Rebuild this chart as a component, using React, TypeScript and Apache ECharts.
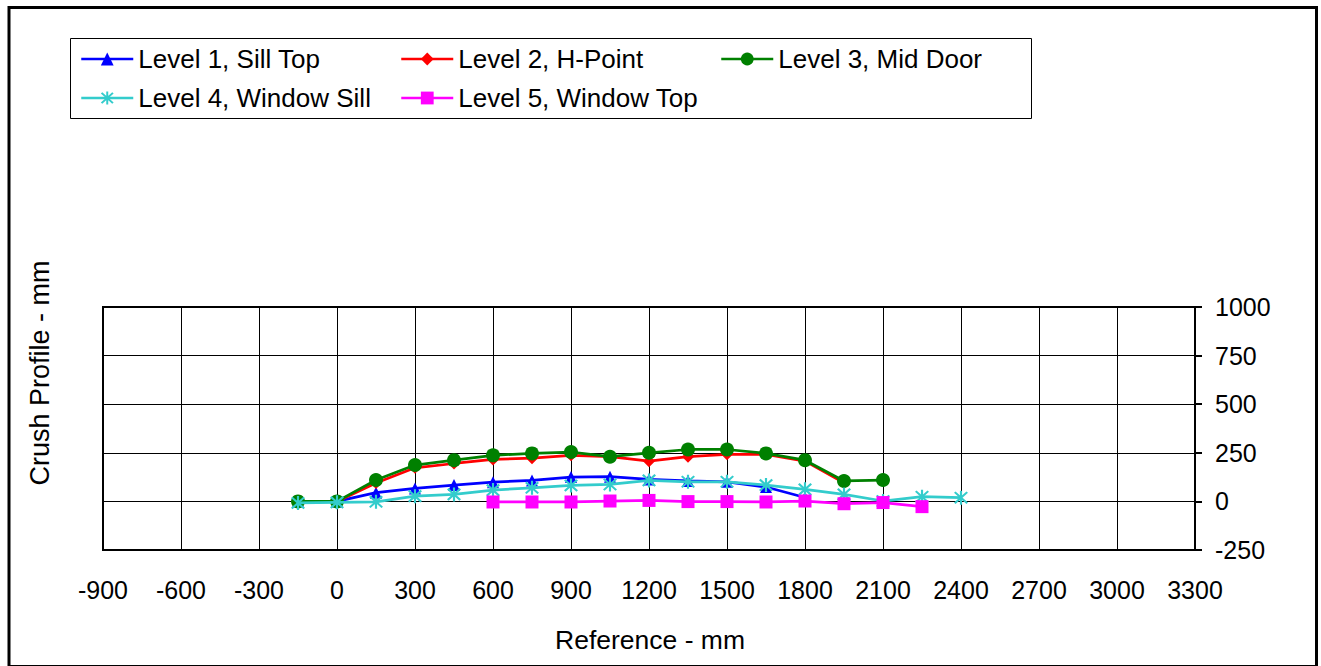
import React, { useEffect, useRef } from "react";
import * as echarts from "echarts";

const xTicks = [-900, 3300, 300];
const yTicks = [-250, 1000, 250];

const names = [
  "Level 1, Sill Top",
  "Level 2, H-Point",
  "Level 3, Mid Door",
  "Level 4, Window Sill",
  "Level 5, Window Top",
];

const x1 = [-150, 0, 150, 300, 450, 600, 750, 900, 1050, 1200, 1350, 1500, 1650, 1800];
const level1 = [0, 0, 45, 67, 84, 99, 108, 125, 127, 113, 105, 101, 74, 20];

const x2 = [-150, 0, 150, 300, 450, 600, 750, 900, 1050, 1200, 1350, 1500, 1650, 1800, 1950];
const level2 = [0, 0, 95, 173, 195, 216, 222, 237, 230, 207, 230, 242, 242, 207, 96];

const x3 = [-150, 0, 150, 300, 450, 600, 750, 900, 1050, 1200, 1350, 1500, 1650, 1800, 1950, 2100];
const level3 = [0, 0, 110, 187, 212, 237, 247, 254, 230, 250, 267, 267, 247, 212, 105, 110];

const x4 = [-150, 0, 150, 300, 450, 600, 750, 900, 1050, 1200, 1350, 1500, 1650, 1800, 1950, 2100, 2250, 2400];
const level4 = [-8, -5, -2, 27, 36, 58, 70, 82, 87, 108, 101, 101, 84, 62, 36, 2, 24, 19];

const x5 = [600, 750, 900, 1050, 1200, 1350, 1500, 1650, 1800, 1950, 2100, 2250];
const level5 = [-3, -3, -3, 2, 5, -1, -1, -3, 2, -12, -6, -27];

const colors = ["#0000FF", "#FF0000", "#008000", "#33CCCC", "#FF00FF"];

const asterisk =
  "path://M4.3,0 L5.7,0 L5.7,10 L4.3,10 Z M0.5,1.5 L1.5,0.5 L9.5,8.5 L8.5,9.5 Z M8.5,0.5 L9.5,1.5 L1.5,9.5 L0.5,8.5 Z";

const FONT = "'Liberation Sans', Arial, sans-serif";

function pairs(xs: number[], ys: number[]) {
  return xs.map((x, i) => [x, ys[i]]);
}

export default function App() {
  const ref = useRef<HTMLDivElement>(null);
  useEffect(() => {
    if (!ref.current) return;
    const chart = echarts.init(ref.current, null, { renderer: "svg" });
    const symbols = ["triangle", "diamond", "circle", asterisk, "rect"];
    const sizes = [12, 12, 14, 14, 13];
    const datasets = [
      pairs(x1, level1),
      pairs(x2, level2),
      pairs(x3, level3),
      pairs(x4, level4),
      pairs(x5, level5),
    ];
    const legendPos = [
      { left: 80, top: 46 },
      { left: 400, top: 46 },
      { left: 720, top: 46 },
      { left: 80, top: 85 },
      { left: 400, top: 85 },
    ];
    chart.setOption({
      animation: false,
      backgroundColor: "#ffffff",
      grid: {
        left: 103,
        top: 307,
        right: 1321 - 1195,
        bottom: 666 - 550,
        show: true,
        borderColor: "#000",
        borderWidth: 2,
        backgroundColor: "transparent",
      },
      legend: names.map((n, i) => ({
        data: [n],
        left: legendPos[i].left,
        top: legendPos[i].top,
        padding: 0,
        itemWidth: 52,
        itemHeight: 16,
        lineStyle: { width: 2.5 },
        textStyle: { fontSize: 26, fontFamily: FONT, color: "#000" },
        selectedMode: false,
      })),
      xAxis: {
        type: "value",
        min: xTicks[0],
        max: xTicks[1],
        interval: xTicks[2],
        axisLine: { show: true, onZero: false, lineStyle: { color: "#000", width: 2 } },
        axisTick: { show: false },
        axisLabel: {
          fontSize: 25,
          fontFamily: FONT,
          color: "#000",
          margin: 27,
          formatter: (v: number) => String(v),
        },
        splitLine: { show: true, lineStyle: { color: "#000", width: 1 } },
      },
      yAxis: {
        type: "value",
        position: "right",
        min: yTicks[0],
        max: yTicks[1],
        interval: yTicks[2],
        axisLine: { show: true, onZero: false, lineStyle: { color: "#000", width: 2 } },
        axisTick: { show: true, length: 7, lineStyle: { color: "#000", width: 2 } },
        axisLabel: {
          fontSize: 25,
          fontFamily: FONT,
          color: "#000",
          margin: 20,
          formatter: (v: number) => String(v),
        },
        splitLine: { show: true, lineStyle: { color: "#000", width: 1 } },
      },
      graphic: [
        {
          type: "rect",
          shape: { x: 9, y: 7.5, width: 1307.5, height: 659 },
          style: { fill: "none", stroke: "#000", lineWidth: 3 },
          silent: true,
          z: -1,
        },
        {
          type: "rect",
          shape: { x: 70.5, y: 38.5, width: 961, height: 80 },
          style: { fill: "none", stroke: "#000", lineWidth: 1 },
          silent: true,
        },
        {
          type: "text",
          x: 40,
          y: 373,
          rotation: Math.PI / 2,
          style: {
            text: "Crush Profile - mm",
            font: `27px ${FONT}`,
            fill: "#000",
            align: "center",
            verticalAlign: "middle",
          },
        },
        {
          type: "text",
          x: 650,
          y: 640,
          style: {
            text: "Reference - mm",
            font: `26.5px ${FONT}`,
            fill: "#000",
            align: "center",
            verticalAlign: "middle",
          },
        },
      ],
      series: names.map((n, i) => ({
        name: n,
        type: "line",
        data: datasets[i],
        symbol: symbols[i],
        symbolSize: sizes[i],
        showAllSymbol: true,
        lineStyle: { color: colors[i], width: 2.75 },
        itemStyle: { color: colors[i] },
        z: 2 + i,
      })),
    });
    return () => chart.dispose();
  }, []);
  return (
    <div
      ref={ref}
      style={{ position: "fixed", left: 0, top: 0, width: 1321, height: 666, background: "#fff" }}
    />
  );
}
